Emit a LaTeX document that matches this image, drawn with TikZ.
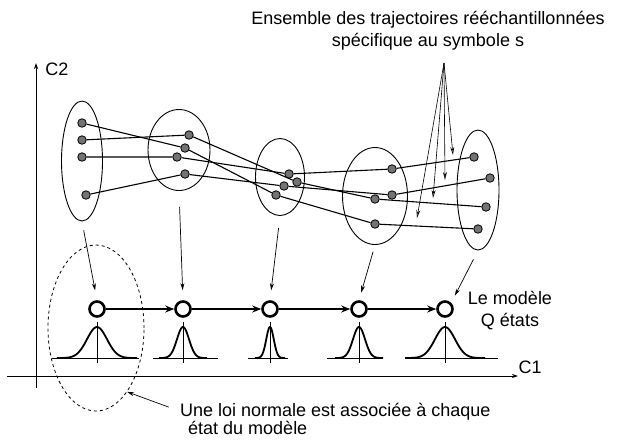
\documentclass[tikz,border=0pt]{standalone}
\usepackage{fontspec}
\setmainfont{Liberation Sans}
\usetikzlibrary{arrows.meta,shapes.geometric}

\begin{document}
\begin{tikzpicture}[x=1pt, y=-1pt, font=\fontsize{18}{22}\selectfont,
	groupe/.style={draw, ellipse, line width=0.9pt, inner sep=0pt},
	point/.style={circle, draw, fill=black!55, line width=0.8pt, inner sep=0pt, minimum size=8.5pt},
	etat/.style={circle, draw, line width=2.6pt, inner sep=0pt, minimum size=15pt},
	traj/.style={line width=1.1pt},
	vers/.style={-{Stealth[length=7pt, width=4pt]}, line width=0.7pt},
	indique/.style={-{Stealth[open, length=8pt, width=4pt]}, line width=0.6pt},
	cloche/.style={line width=1.8pt}]
	\useasboundingbox (0,0) rectangle (617,440);

	% axes
	\coordinate (O) at (36,388);
	\coordinate (Y) at (36,63);
	\coordinate (Xg) at (7,376);
	\coordinate (X) at (518,376);
	\draw [-{Stealth[length=6pt, width=4pt]}, line width=0.8pt] (O) -- (Y);
	\draw [-{Stealth[length=6pt, width=4pt]}, line width=0.8pt] (Xg) -- (X);
	\node (c2) at (57,69) {C2};
	\node (c1) at (530,367) {C1};

	% groupes de points
	\node [groupe, minimum width=41pt, minimum height=120pt] (g1) at (82,161) {};
	\node [groupe, minimum width=62pt, minimum height=81pt] (g2) at (179,150) {};
	\node [groupe, minimum width=49pt, minimum height=77pt] (g3) at (280,177) {};
	\node [groupe, minimum width=65pt, minimum height=97pt] (g4) at (375,196) {};
	\node [groupe, minimum width=42pt, minimum height=120pt] (g5) at (478,190) {};

	\node [point] (p11) at (82,123) {};
	\node [point] (p12) at (82,140) {};
	\node [point] (p13) at (82,157) {};
	\node [point] (p14) at (86,195) {};
	\node [point] (p21) at (189,135) {};
	\node [point] (p22) at (185,148) {};
	\node [point] (p23) at (177,157) {};
	\node [point] (p24) at (185,174) {};
	\node [point] (p31) at (289,174) {};
	\node [point] (p32) at (297,182) {};
	\node [point] (p33) at (284,186) {};
	\node [point] (p34) at (276,195) {};
	\node [point] (p41) at (392,169) {};
	\node [point] (p42) at (392,195) {};
	\node [point] (p43) at (375,199) {};
	\node [point] (p44) at (375,224) {};
	\node [point] (p51) at (474,157) {};
	\node [point] (p52) at (490,178) {};
	\node [point] (p53) at (486,207) {};
	\node [point] (p54) at (478,229) {};

	% trajectoires
	\draw [traj] (p11) -- (p22) -- (p34) -- (p44) -- (p54);
	\draw [traj] (p12) -- (p21) -- (p32) -- (p43) -- (p53);
	\draw [traj] (p13) -- (p23) -- (p31) -- (p41) -- (p51);
	\draw [traj] (p14) -- (p24) -- (p33) -- (p42) -- (p52);

	\node [align=center] (titre) at (428,31) {Ensemble des trajectoires rééchantillonnées\\spécifique au symbole s};
	\coordinate (sommet) at (444,63);
	\coordinate (f1) at (417,218);
	\coordinate (f2) at (433,198);
	\coordinate (f3) at (445,180);
	\coordinate (f4) at (453,155);
	\draw [indique] (sommet) -- (f1);
	\draw [indique] (sommet) -- (f2);
	\draw [indique] (sommet) -- (f3);
	\draw [indique] (sommet) -- (f4);

	% le modele
	\node [etat] (s1) at (97,309) {};
	\node [etat] (s2) at (183,309) {};
	\node [etat] (s3) at (270,309) {};
	\node [etat] (s4) at (359,309) {};
	\node [etat] (s5) at (445,309) {};
	\draw [line width=1.8pt, -{Stealth[length=9pt, width=7pt]}] (s1) -- (s2);
	\draw [line width=1.8pt, -{Stealth[length=9pt, width=7pt]}] (s2) -- (s3);
	\draw [line width=1.8pt, -{Stealth[length=9pt, width=7pt]}] (s3) -- (s4);
	\draw [line width=1.8pt, -{Stealth[length=9pt, width=7pt]}] (s4) -- (s5);
	\node [align=center] (qetats) at (510,311) {Le modèle\\Q états};

	\draw [vers, shorten <=9pt, shorten >=10pt] (g1.south) -- (s1.north);
	\draw [vers, shorten <=16pt, shorten >=10pt] (g2.south) -- (s2.north);
	\draw [vers, shorten <=12pt, shorten >=10pt] (g3.south) -- (s3.north);
	\draw [vers, shorten <=7pt, shorten >=8pt] (g4.south) -- (s4.north);
	\draw [vers, shorten <=10pt, shorten >=8pt] (g5.south) -- (s5.north east);

	% lois normales
	\draw [line width=0.8pt] (52,358) -- (139,358);
	\draw [line width=0.8pt] (97,322) -- (97,363);
	\draw [cloche] plot [domain=57:137, samples=60] (\x, {358-31*exp(-(\x-97)*(\x-97)/200)});
	\draw [line width=0.8pt] (153,358) -- (218,358);
	\draw [line width=0.8pt] (183,322) -- (183,363);
	\draw [cloche] plot [domain=159:207, samples=60] (\x, {358-31*exp(-(\x-183)*(\x-183)/72)});
	\draw [line width=0.8pt] (248,358) -- (288,358);
	\draw [line width=0.8pt] (270,322) -- (270,363);
	\draw [cloche] plot [domain=255:285, samples=60] (\x, {358-31*exp(-(\x-270)*(\x-270)/28)});
	\draw [line width=0.8pt] (327,358) -- (382,358);
	\draw [line width=0.8pt] (359,322) -- (359,363);
	\draw [cloche] plot [domain=335:383, samples=60] (\x, {358-31*exp(-(\x-359)*(\x-359)/72)});
	\draw [line width=0.8pt] (407,358) -- (498,358);
	\draw [line width=0.8pt] (445,322) -- (445,363);
	\draw [cloche] plot [domain=405:485, samples=60] (\x, {358-31*exp(-(\x-445)*(\x-445)/200)});

	\node [draw, dashed, ellipse, line width=0.8pt, minimum width=96pt, minimum height=166pt] (loi) at (96,328) {};
	\node [anchor=base west, inner sep=0pt] (loi1) at (180,416) {Une loi normale est associée à chaque};
	\node [anchor=base west, inner sep=0pt] (loi2) at (188,434) {état du modèle};
	\draw [vers, shorten <=12pt] (loi1.west) -- (loi.-64);
\end{tikzpicture}
\end{document}
